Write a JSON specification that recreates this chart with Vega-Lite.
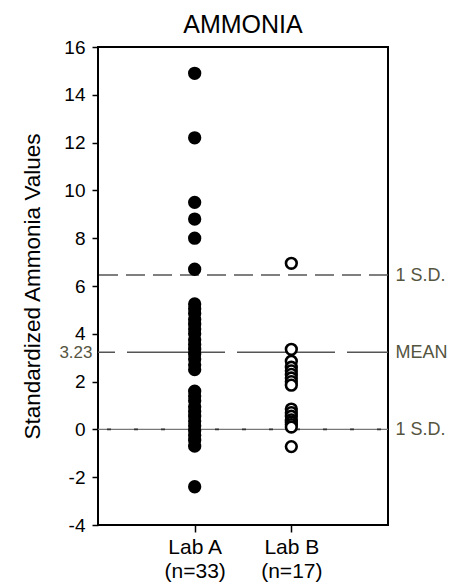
{
  "$schema": "https://vega.github.io/schema/vega-lite/v6.json",
  "autosize": {"type": "none"},
  "padding": {"left": 98, "top": 47, "right": 70, "bottom": 59},
  "width": 290,
  "height": 478,
  "background": "white",
  "config": {
    "font": "Liberation Sans",
    "view": {"stroke": "black", "strokeWidth": 2}
  },
  "title": {
    "text": "AMMONIA",
    "frame": "group",
    "anchor": "middle",
    "offset": 0,
    "fontSize": 25,
    "fontWeight": "normal",
    "font": "Liberation Sans",
    "color": "black"
  },
  "datasets": {
    "points": [
      {"lab": "Lab A", "value": 14.9},
      {"lab": "Lab A", "value": 12.2},
      {"lab": "Lab A", "value": 9.5},
      {"lab": "Lab A", "value": 8.8},
      {"lab": "Lab A", "value": 8.0},
      {"lab": "Lab A", "value": 6.7},
      {"lab": "Lab A", "value": 5.25},
      {"lab": "Lab A", "value": 5.05},
      {"lab": "Lab A", "value": 4.85},
      {"lab": "Lab A", "value": 4.6},
      {"lab": "Lab A", "value": 4.4},
      {"lab": "Lab A", "value": 4.2},
      {"lab": "Lab A", "value": 4.0},
      {"lab": "Lab A", "value": 3.75},
      {"lab": "Lab A", "value": 3.55},
      {"lab": "Lab A", "value": 3.35},
      {"lab": "Lab A", "value": 3.15},
      {"lab": "Lab A", "value": 2.95},
      {"lab": "Lab A", "value": 2.7},
      {"lab": "Lab A", "value": 2.5},
      {"lab": "Lab A", "value": 1.6},
      {"lab": "Lab A", "value": 1.4},
      {"lab": "Lab A", "value": 1.2},
      {"lab": "Lab A", "value": 0.95},
      {"lab": "Lab A", "value": 0.75},
      {"lab": "Lab A", "value": 0.55},
      {"lab": "Lab A", "value": 0.35},
      {"lab": "Lab A", "value": 0.15},
      {"lab": "Lab A", "value": -0.05},
      {"lab": "Lab A", "value": -0.25},
      {"lab": "Lab A", "value": -0.45},
      {"lab": "Lab A", "value": -0.7},
      {"lab": "Lab A", "value": -2.4},
      {"lab": "Lab B", "value": 6.95},
      {"lab": "Lab B", "value": 3.35},
      {"lab": "Lab B", "value": 2.85},
      {"lab": "Lab B", "value": 2.6},
      {"lab": "Lab B", "value": 2.45},
      {"lab": "Lab B", "value": 2.3},
      {"lab": "Lab B", "value": 2.15},
      {"lab": "Lab B", "value": 2.0},
      {"lab": "Lab B", "value": 1.85},
      {"lab": "Lab B", "value": 0.85},
      {"lab": "Lab B", "value": 0.7},
      {"lab": "Lab B", "value": 0.55},
      {"lab": "Lab B", "value": 0.4},
      {"lab": "Lab B", "value": 0.3},
      {"lab": "Lab B", "value": 0.2},
      {"lab": "Lab B", "value": 0.1},
      {"lab": "Lab B", "value": -0.72}
    ],
    "lines": [
      {"name": "upper", "value": 6.46},
      {"name": "mean", "value": 3.23},
      {"name": "lower", "value": 0}
    ]
  },
  "layer": [
    {
      "data": {"name": "lines"},
      "transform": [{"filter": "datum.name == 'lower'"}],
      "mark": {"type": "rule", "color": "#777777", "strokeWidth": 1.2},
      "encoding": {
        "y": {"field": "value", "type": "quantitative", "scale": {"domain": [-4, 16], "nice": false, "zero": false}, "axis": null}
      }
    },
    {
      "data": {"name": "lines"},
      "transform": [{"filter": "datum.name == 'lower'"}],
      "mark": {"type": "rule", "color": "#333333", "strokeWidth": 1.6, "strokeDash": [4, 23], "strokeDashOffset": 20},
      "encoding": {
        "y": {"field": "value", "type": "quantitative", "scale": {"domain": [-4, 16], "nice": false, "zero": false}, "axis": null}
      }
    },
    {
      "data": {"name": "lines"},
      "transform": [{"filter": "datum.name == 'upper'"}],
      "mark": {"type": "rule", "color": "#555555", "strokeWidth": 1.6, "strokeDash": [19, 8]},
      "encoding": {
        "y": {"field": "value", "type": "quantitative", "scale": {"domain": [-4, 16], "nice": false, "zero": false}, "axis": null}
      }
    },
    {
      "data": {"name": "lines"},
      "transform": [{"filter": "datum.name == 'mean'"}],
      "mark": {"type": "rule", "color": "#555555", "strokeWidth": 1.6, "strokeDash": [98, 12], "strokeDashOffset": 57},
      "encoding": {
        "y": {
          "field": "value",
          "type": "quantitative",
          "scale": {"domain": [-4, 16], "nice": false, "zero": false},
          "axis": {
            "orient": "right",
            "values": [0, 3.23, 6.46],
            "labelExpr": "datum.value == 3.23 ? 'MEAN' : '1 S.D.'",
            "labelOverlap": false,
            "ticks": false,
            "domain": false,
            "grid": false,
            "title": null,
            "labelPadding": 7,
            "labelFontSize": 18,
            "labelColor": "#55553f",
            "labelFont": "Liberation Sans",
            "labelBaseline": "middle"
          }
        }
      }
    },
    {
      "data": {"name": "points"},
      "mark": {"type": "point", "filled": false, "size": 115, "strokeWidth": 2.6, "opacity": 1, "stroke": "black"},
      "encoding": {
        "x": {
          "field": "lab",
          "type": "nominal",
          "scale": {"type": "point", "domain": ["Lab A", "Lab B"], "padding": 1},
          "axis": {
            "title": null,
            "labelAngle": 0,
            "labelExpr": "datum.value == 'Lab A' ? ['Lab A', '(n=33)'] : ['Lab B', '(n=17)']",
            "labelFontSize": 21,
            "labelLineHeight": 24,
            "labelColor": "black",
            "labelPadding": 4,
            "tickSize": 7,
            "tickWidth": 1.5,
            "tickColor": "black",
            "domain": false,
            "grid": false
          }
        },
        "y": {
          "field": "value",
          "type": "quantitative",
          "scale": {"domain": [-4, 16], "nice": false, "zero": false},
          "axis": {
            "orient": "left",
            "values": [-4, -2, 0, 2, 3.23, 4, 6, 8, 10, 12, 14, 16],
            "labelExpr": "datum.value == 3.23 ? '3.23' : (datum.value < 0 ? '-' + abs(datum.value) : '' + datum.value)",
            "labelOverlap": false,
            "title": "Standardized Ammonia Values",
            "titleFontSize": 22.5,
            "titleFontWeight": "normal",
            "titleColor": "black",
            "titlePadding": 14,
            "domain": false,
            "grid": false,
            "tickSize": 6,
            "tickWidth": 1.5,
            "tickColor": "black",
            "tickOpacity": {"condition": {"test": "datum.value == 3.23", "value": 0}, "value": 1},
            "labelFontSize": {"condition": {"test": "datum.value == 3.23", "value": 17}, "value": 19},
            "labelColor": {"condition": {"test": "datum.value == 3.23", "value": "#55553f"}, "value": "black"},
            "labelPadding": {"condition": {"test": "datum.value == 3.23", "value": 0}, "value": 7}
          }
        },
        "fill": {
          "field": "lab",
          "type": "nominal",
          "scale": {"domain": ["Lab A", "Lab B"], "range": ["black", "white"]},
          "legend": null
        }
      }
    }
  ],
  "resolve": {"axis": {"y": "independent"}}
}
